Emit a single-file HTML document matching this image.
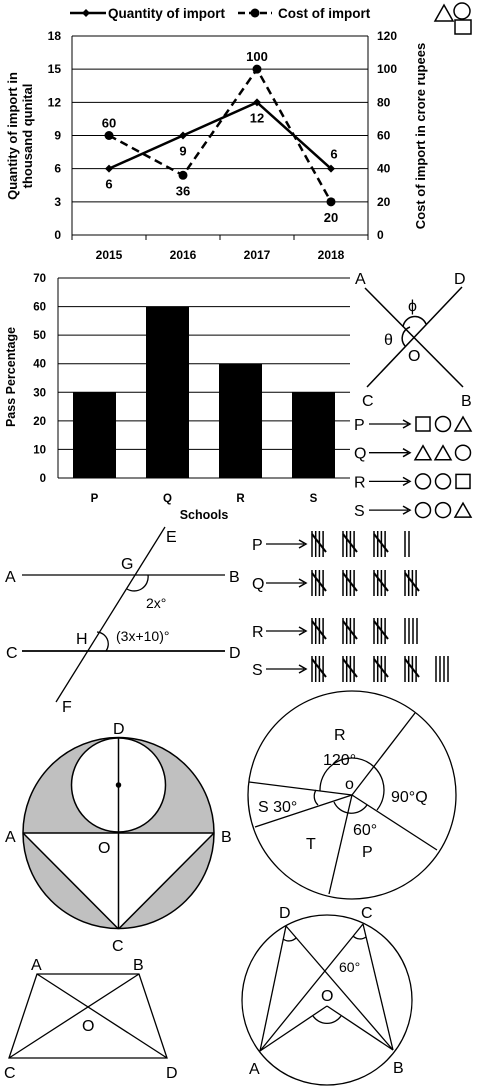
<!DOCTYPE html>
<html><head><meta charset="utf-8"><style>
body{margin:0;background:#fff}
svg{display:block}
.b{font-family:"Liberation Sans",sans-serif;font-weight:bold;font-size:12px}
.t{font-family:"Liberation Sans","DejaVu Sans",sans-serif;font-size:16px}
</style></head><body>
<svg id="s" width="481" height="1091" viewBox="0 0 481 1091" xmlns="http://www.w3.org/2000/svg">
<g id="c1"></g>
<g id="c2"></g>
<g fill="none" stroke="#000" stroke-width="1.5">
<polygon points="435,21 444,5 453,21"/><circle cx="462" cy="11" r="8"/><rect x="455" y="20" width="16" height="14"/>
</g>
<g stroke="#000" stroke-width="1.5" fill="none">
<line x1="365" y1="288" x2="463" y2="387"/><line x1="462" y1="287" x2="367" y2="387"/>
<path d="M405,346 A12,12 0 0 1 410,327"/><path d="M403,327 A12,12 0 0 1 426,324"/>
</g>
<g class="t">
<text x="355" y="284">A</text><text x="454" y="284">D</text><text x="362" y="406">C</text><text x="461" y="406">B</text>
<text x="408" y="361">O</text><text x="384" y="345">θ</text><text x="408" y="311">ϕ</text>
</g>
<g id="arrows"></g>
<g stroke="#000" fill="none">
<line x1="22" y1="575" x2="225" y2="575" stroke-width="1.2"/><line x1="22" y1="651" x2="225" y2="651" stroke-width="1.8"/>
<line x1="165" y1="527" x2="56" y2="702" stroke-width="1.3"/>
<path d="M127,589 A14,14 0 0 0 148,575" stroke-width="1.3"/><path d="M97,632 A12,12 0 0 1 106,651" stroke-width="1.3"/>
</g>
<g class="t">
<text x="5" y="582">A</text><text x="229" y="582">B</text><text x="6" y="658">C</text><text x="229" y="658">D</text>
<text x="166" y="542">E</text><text x="62" y="712">F</text><text x="121" y="569">G</text><text x="76" y="644">H</text>
<text x="146" y="608" font-size="14">2x°</text><text x="116" y="641" font-size="14">(3x+10)°</text>
</g>
<g id="tally"></g>
<g stroke="#000" stroke-width="1.5">
<circle cx="118.5" cy="833" r="95.5" fill="#c0c0c0"/>
<polygon points="23,833 214,833 118.5,929" fill="#fff" stroke="none"/>
<circle cx="118.5" cy="785" r="47" fill="#fff"/>
<line x1="23" y1="833" x2="214" y2="833"/><line x1="118.5" y1="738" x2="118.5" y2="929"/>
<line x1="23" y1="833" x2="118.5" y2="929"/><line x1="214" y1="833" x2="118.5" y2="929"/>
<circle cx="118.5" cy="785" r="2" fill="#000"/>
</g>
<g class="t">
<text x="113" y="734">D</text><text x="5" y="842">A</text><text x="221" y="842">B</text><text x="98" y="853">O</text><text x="112" y="951">C</text>
</g>
<g stroke="#000" stroke-width="1.3" fill="none">
<circle cx="352" cy="795" r="104"/>
<line x1="352" y1="795" x2="415" y2="713"/><line x1="352" y1="795" x2="249" y2="782"/><line x1="352" y1="795" x2="255" y2="827"/>
<line x1="352" y1="795" x2="329" y2="894"/><line x1="352" y1="795" x2="437" y2="850"/>
<path d="M320,791 A32,32 0 1 1 377,810"/><path d="M318,805 A12,12 0 0 1 316,790"/>
<path d="M334,802 A19,19 0 0 0 367,805"/>
</g>
<g class="t" font-size="15">
<text x="334" y="740">R</text><text x="323" y="765">120°</text><text x="345" y="789">o</text>
<text x="391" y="802">90°Q</text><text x="258" y="812">S  30°</text><text x="306" y="849">T</text>
<text x="353" y="835">60°</text><text x="362" y="857">P</text>
</g>
<g stroke="#000" stroke-width="1.3" fill="none">
<polygon points="37,974 139,974 167,1058 9,1058"/><line x1="37" y1="974" x2="167" y2="1058"/><line x1="139" y1="974" x2="9" y2="1058"/>
</g>
<g class="t">
<text x="31" y="970">A</text><text x="133" y="970">B</text><text x="4" y="1078">C</text><text x="166" y="1078">D</text><text x="82" y="1031">O</text>
</g>
<g stroke="#000" stroke-width="1.3" fill="none">
<circle cx="327" cy="1000" r="85"/>
<line x1="260" y1="1051" x2="286" y2="926"/><line x1="286" y1="926" x2="393" y2="1050"/>
<line x1="260" y1="1051" x2="363" y2="924"/><line x1="363" y1="924" x2="393" y2="1050"/>
<line x1="260" y1="1051" x2="327" y2="1006"/><line x1="327" y1="1006" x2="393" y2="1050"/>
<path d="M283,939 A10,10 0 0 0 296,938"/><path d="M353,936 A10,10 0 0 0 366,937"/><path d="M313,1016 A17,17 0 0 0 341,1016"/>
</g>
<g class="t">
<text x="279" y="918">D</text><text x="361" y="918">C</text><text x="249" y="1074">A</text><text x="393" y="1073">B</text>
<text x="321" y="1001">O</text><text x="339" y="972" font-size="14">60°</text>
</g>
</svg>
<script>
const NS="http://www.w3.org/2000/svg";
function mk(p,tag,a,txt){const e=document.createElementNS(NS,tag);for(const k in a)e.setAttribute(k,a[k]);if(txt!=null)e.textContent=txt;p.appendChild(e);return e;}
// Chart 1 data
const years=["2015","2016","2017","2018"];
const quantity=[6,9,12,6];
const cost=[60,36,100,20];
const leftTicks=[0,3,6,9,12,15,18];
const rightTicks=[0,20,40,60,80,100,120];
(function(){
const g=document.getElementById('c1');
const x0=72,x1=368,y0=235,y1=36,lmax=18,rmax=120;
const yL=v=>y0-(v/lmax)*(y0-y1), yR=v=>y0-(v/rmax)*(y0-y1);
const bw=(x1-x0)/years.length, xc=i=>x0+bw*(i+0.5);
const vs='font-family:"Liberation Sans",sans-serif;font-size:13px;font-weight:bold';
leftTicks.forEach((t,i)=>{const gl=mk(g,'line',{x1:x0,x2:x1,y1:yL(t),y2:yL(t),stroke:'#000','stroke-width':1});

const tl=mk(g,'text',{x:61,y:yL(t)+4,'text-anchor':'end',class:'b'},t);

const tr=mk(g,'text',{x:377,y:yR(rightTicks[i])+4,class:'b'},rightTicks[i]);
});
mk(g,'line',{x1:x0,x2:x0,y1:y1,y2:y0+5,stroke:'#000'});mk(g,'line',{x1:x1,x2:x1,y1:y1,y2:y0+5,stroke:'#000'});
for(let i=0;i<=years.length;i++)mk(g,'line',{x1:x0+bw*i,x2:x0+bw*i,y1:y0,y2:y0+5,stroke:'#000'});
years.forEach((y,i)=>{const t=mk(g,'text',{x:xc(i),y:259,'text-anchor':'middle',class:'b'},y);
});
const qp=quantity.map((v,i)=>xc(i)+','+yL(v)).join(' ');
const ql=mk(g,'polyline',{points:qp,fill:'none',stroke:'#000','stroke-width':2.5});

const cp=cost.map((v,i)=>xc(i)+','+yR(v)).join(' ');
const cl=mk(g,'polyline',{points:cp,fill:'none',stroke:'#000','stroke-width':2.5,'stroke-dasharray':'8,5'});

quantity.forEach((v,i)=>{const x=xc(i),y=yL(v);
const d=mk(g,'polygon',{points:`${x-4},${y} ${x},${y-4} ${x+4},${y} ${x},${y+4}`,fill:'#000'});

const above=i===quantity.length-1;
const l=mk(g,'text',{x:x+(above?3:0),y:above?y-10:y+20,'text-anchor':'middle',style:vs},v);
});
cost.forEach((v,i)=>{const x=xc(i),y=yR(v);
const c=mk(g,'circle',{cx:x,cy:y,r:4.5,fill:'#000'});

const above=(v>=60);
const l=mk(g,'text',{x:x,y:above?y-8:y+20,'text-anchor':'middle',style:vs},v);
});
mk(g,'line',{x1:70,x2:106,y1:13,y2:13,stroke:'#000','stroke-width':2.5});
mk(g,'polygon',{points:'82,13 86,9 90,13 86,17',fill:'#000'});
const l1=mk(g,'text',{x:108,y:18,class:'b',style:'font-size:13.5px'},'Quantity of import');

mk(g,'line',{x1:238,x2:272,y1:13,y2:13,stroke:'#000','stroke-width':2.5,'stroke-dasharray':'7,4'});
mk(g,'circle',{cx:255,cy:13,r:4.5,fill:'#000'});
const l2=mk(g,'text',{x:278,y:18,class:'b',style:'font-size:13.5px'},'Cost of import');

const a1=mk(g,'text',{x:0,y:0,'text-anchor':'middle',class:'b',style:'font-size:13px',transform:'translate(17,136) rotate(-90)'},'Quantity of import in');

mk(g,'text',{x:0,y:0,'text-anchor':'middle',class:'b',style:'font-size:13px',transform:'translate(32,136) rotate(-90)'},'thousand qunital');
const a2=mk(g,'text',{x:0,y:0,'text-anchor':'middle',class:'b',style:'font-size:13px',transform:'translate(425,136) rotate(-90)'},'Cost of import in crore rupees');

})();
// Chart 2 data
const schools=["P","Q","R","S"];
const passPct=[30,60,40,30];
const passTicks=[0,10,20,30,40,50,60,70];
(function(){
const g=document.getElementById('c2');
const x0=58,x1=350,y0=478,y1=278,max=70;
const y=v=>y0-(v/max)*(y0-y1);const bw=(x1-x0)/schools.length;
passTicks.forEach(t=>{const gl=mk(g,'line',{x1:x0,x2:x1,y1:y(t),y2:y(t),stroke:'#000'});

const tl=mk(g,'text',{x:46,y:y(t)+4,'text-anchor':'end',class:'b',style:'font-size:11.5px'},t);
});
mk(g,'line',{x1:x0,x2:x0,y1:y1,y2:y0,stroke:'#000'});
schools.forEach((s,i)=>{const cx=x0+bw*(i+0.5);
const r=mk(g,'rect',{x:cx-21.5,y:y(passPct[i]),width:43,height:y0-y(passPct[i]),fill:'#000'});

const t=mk(g,'text',{x:cx,y:502,'text-anchor':'middle',class:'b',style:'font-size:11.5px'},s);
});
const xt=mk(g,'text',{x:204,y:519,'text-anchor':'middle',class:'b',style:'font-size:12.5px'},'Schools');

const yt=mk(g,'text',{x:0,y:0,'text-anchor':'middle',class:'b',style:'font-size:12.5px',transform:'translate(15,377) rotate(-90)'},'Pass Percentage');

})();
// shape rows
const rowLabels=["P","Q","R","S"];
const rowShapes=[["sq","ci","tr"],["tr","tr","ci"],["ci","ci","sq"],["ci","ci","tr"]];
(function(){const g=document.getElementById('arrows');
rowLabels.forEach((L,i)=>{const cy=424+i*28.7;
const t=mk(g,'text',{x:354,y:cy+6,class:'t'},L);

mk(g,'line',{x1:369,x2:408,y1:cy,y2:cy,stroke:'#000','stroke-width':1.3});
mk(g,'path',{d:`M403,${cy-4} L410,${cy} L403,${cy+4}`,fill:'none',stroke:'#000','stroke-width':1.5});
rowShapes[i].forEach((s,j)=>{const cx=423+j*20;let e;
if(s==='sq')e=mk(g,'rect',{x:cx-7,y:cy-7,width:14,height:14,fill:'none',stroke:'#000','stroke-width':1.5});
else if(s==='ci')e=mk(g,'circle',{cx:cx,cy:cy,r:7.5,fill:'none',stroke:'#000','stroke-width':1.5});
else e=mk(g,'polygon',{points:`${cx-8},${cy+7} ${cx},${cy-7} ${cx+8},${cy+7}`,fill:'none',stroke:'#000','stroke-width':1.5});
});});})();
// tallies
const tallyLabels=["P","Q","R","S"];
const tallyCounts=[17,20,19,24];
(function(){const g=document.getElementById('tally');
tallyCounts.forEach((n,i)=>{const top=[531,570,618,656][i];const bot=top+26;const cy=(top+bot)/2;
const t=mk(g,'text',{x:252,y:cy+6,class:'t'},tallyLabels[i]);

mk(g,'line',{x1:266,x2:304,y1:cy,y2:cy,stroke:'#000','stroke-width':1.3});
mk(g,'path',{d:`M299,${cy-4} L306,${cy} L299,${cy+4}`,fill:'none',stroke:'#000','stroke-width':1.5});
const groups=Math.floor(n/5),rest=n%5;
for(let k=0;k<groups;k++){const gx=312+k*31;
for(let m=0;m<4;m++)mk(g,'line',{x1:gx+m*3.7,x2:gx+m*3.7,y1:top,y2:bot,stroke:'#000','stroke-width':1.5});
const d=mk(g,'line',{x1:gx,y1:top+3,x2:gx+14,y2:bot-5,stroke:'#000','stroke-width':2});
}
for(let m=0;m<rest;m++)mk(g,'line',{x1:312+groups*31+m*4,x2:312+groups*31+m*4,y1:top,y2:bot,stroke:'#000','stroke-width':1.5});
});})();
</script>
</body></html>
